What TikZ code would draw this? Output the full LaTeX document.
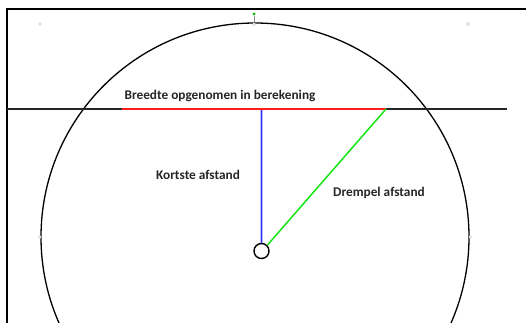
\documentclass[tikz,border=0pt]{standalone}
\usepackage{fontspec}
\setmainfont{Carlito}
\definecolor{lblue}{RGB}{50,50,255}
\definecolor{lred}{RGB}{255,30,30}
\definecolor{lgreen}{RGB}{20,230,20}
\begin{document}
\begin{tikzpicture}[x=1pt,y=-1pt,
  lbl/.style={font=\bfseries\fontsize{13.3}{15}\selectfont, text=black!85, inner sep=0pt},
  handle/.style={circle, draw=black!45, fill=white, line width=0.3pt, minimum size=3pt, inner sep=0pt},
  hub/.style={circle, draw=black, fill=white, line width=1.4pt, minimum size=15pt, inner sep=0pt}]
\useasboundingbox (0,0) rectangle (526,322);
\begin{scope}
\clip (0,0) rectangle (526,322);
% frame
\draw[line width=2pt] (7,330) -- (7,9) -- (530,9);
% big circle
\draw[line width=1.3pt] (255,237) circle (214);
\end{scope}
% horizontal line
\coordinate (hl) at (7,109);
\coordinate (hr) at (507,109);
\coordinate (rl) at (122,109);
\coordinate (rr) at (386,109);
\coordinate (bt) at (261.5,109.7);
% hub
\node[hub] (c) at (261.5,251) {};
\draw[line width=1.8pt, draw=lblue, line cap=butt] (bt) -- ([xshift=0.05pt]c.north);
\draw[line width=1.2pt, black!85] (hl) -- (hr);
\draw[line width=1.6pt, lred] (rl) -- (rr);
\draw[line width=1.5pt, lgreen] (rr) -- (c.north east);
% labels
\node[lbl] (t1) at (220,96) {Breedte opgenomen in berekening};
\node[lbl] (t2) at (198,175) {Kortste afstand};
\node[lbl] (t3) at (379,193) {Drempel afstand};
% selection handles
\node[handle] (h1) at (40,24) {};
\node[handle] (h2) at (468,24) {};
\node[handle] (h3) at (254,24) {};
\node[handle] (h4) at (40,237) {};
\node[handle] (h5) at (470,237) {};
\node[circle, fill=green!70!black, minimum size=3pt, inner sep=0pt] (g) at (254,14) {};
\draw[black!45, line width=0.5pt] (g) -- (h3);
\end{tikzpicture}
\end{document}
